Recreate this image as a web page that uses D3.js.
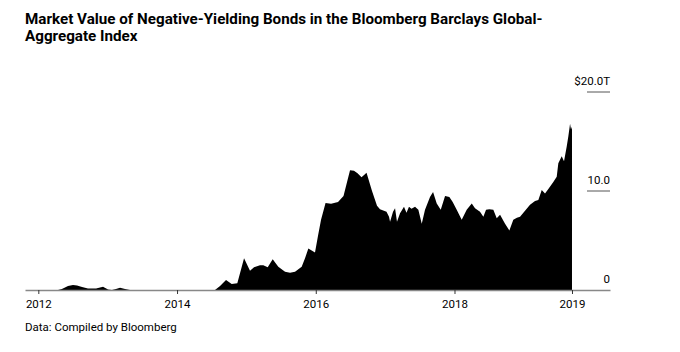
<!DOCTYPE html>
<html>
<head>
<meta charset="utf-8">
<script src="https://cdn.jsdelivr.net/npm/d3@7"></script>
<style>
  body { margin: 0; background: #fff; }
  svg { display: block; font-family: "Roboto", "Liberation Sans", sans-serif; }
</style>
</head>
<body>
<script>
// Dates as decimal years, values in trillions of USD
var years = [
  2011.808, 2012.284, 2012.341, 2012.428, 2012.500, 2012.558, 2012.630, 2012.716, 2012.832, 2012.933,
  2013.005, 2013.062, 2013.120, 2013.178, 2013.250, 2013.322, 2014.547, 2014.620, 2014.706, 2014.788,
  2014.869, 2014.966, 2015.052, 2015.110, 2015.196, 2015.244, 2015.307, 2015.379, 2015.460, 2015.557,
  2015.629, 2015.701, 2015.797, 2015.845, 2015.893, 2015.989, 2016.033, 2016.076, 2016.141, 2016.220,
  2016.321, 2016.400, 2016.451, 2016.494, 2016.551, 2016.602, 2016.660, 2016.732, 2016.811, 2016.883,
  2016.926, 2017.020, 2017.056, 2017.071, 2017.114, 2017.143, 2017.171, 2017.215, 2017.272, 2017.308,
  2017.344, 2017.380, 2017.431, 2017.479, 2017.528, 2017.575, 2017.647, 2017.691, 2017.744, 2017.802,
  2017.864, 2017.926, 2017.974, 2018.032, 2018.104, 2018.176, 2018.249, 2018.296, 2018.368, 2018.416,
  2018.455, 2018.502, 2018.560, 2018.609, 2018.657, 2018.729, 2018.791, 2018.848, 2018.900, 2018.945,
  2019.017, 2019.089, 2019.161, 2019.209, 2019.258, 2019.305, 2019.353, 2019.425, 2019.474, 2019.497,
  2019.546, 2019.579, 2019.618, 2019.641, 2019.666, 2019.680, 2019.694
];
var values = [
  0, 0, 0.1, 0.4, 0.5, 0.45, 0.3, 0.15, 0.15, 0.33,
  0.05, 0, 0.1, 0.23, 0.1, 0, 0, 0.4, 1.0, 0.6,
  0.67, 3.2, 1.95, 2.3, 2.5, 2.5, 2.3, 3.1, 2.35, 1.85,
  1.75, 1.85, 2.35, 3.2, 4.2, 3.8, 5.5, 7.1, 8.8, 8.7,
  8.9, 9.5, 10.9, 12.1, 12.05, 11.8, 11.4, 11.85, 10.0, 8.5,
  8.15, 7.9, 7.4, 6.9, 7.9, 8.25, 6.9, 7.75, 8.4, 7.8,
  8.4, 8.2, 8.4, 8.1, 6.7, 8.1, 9.4, 9.9, 8.75, 8.1,
  9.5, 9.4, 8.9, 8.1, 7.1, 8.1, 8.75, 8.25, 7.9, 7.4,
  8.1, 8.15, 8.1, 7.25, 7.6, 6.7, 6.0, 7.1, 7.3, 7.4,
  8.0, 8.6, 9.0, 9.1, 10.1, 9.75, 10.2, 10.9, 11.45, 12.8,
  13.5, 13.0, 14.5, 15.5, 16.8, 16.2, 16.5
];
var xTicks = [2012, 2014, 2016, 2018, 2019.694];
var xTickLabels = ["2012", "2014", "2016", "2018", "2019"];
var yTicks = [0, 10, 20];
var yTickLabels = ["0", "10.0", "$20.0T"];

var title = ["Market Value of Negative-Yielding Bonds in the Bloomberg Barclays Global-", "Aggregate Index"];
var source = "Data: Compiled by Bloomberg";

var W = 680, H = 352;
var svg = d3.select("body").append("svg").attr("width", W).attr("height", H);

var x = d3.scaleLinear().domain([2011.808, 2020.242]).range([25, 610]);
var y = d3.scaleLinear().domain([0, 20]).range([290, 92]);

var data = years.map(function(d, i) { return {t: d, v: values[i]}; });

svg.append("g").selectAll("text")
  .data(title)
  .join("text")
    .attr("x", 25)
    .attr("y", function(d, i) { return 24 + i * 17; })
    .attr("font-size", 15.2)
    .attr("font-weight", "bold")
    .attr("fill", "#000")
    .text(function(d) { return d; });

var area = d3.area()
    .x(function(d) { return x(d.t); })
    .y0(y(0))
    .y1(function(d) { return y(d.v); });

svg.append("path")
    .datum(data)
    .attr("d", area)
    .attr("fill", "#000");

// right-hand value labels with short rules
var yg = svg.append("g").selectAll("g")
  .data(yTicks)
  .join("g")
    .attr("transform", function(d) { return "translate(0," + y(d) + ")"; });
yg.filter(function(d) { return d > 0; }).append("line")
    .attr("x1", 587).attr("x2", 610)
    .attr("stroke", "#555").attr("stroke-width", 1);
yg.append("text")
    .attr("x", 610)
    .attr("y", -7)
    .attr("text-anchor", "end")
    .attr("font-size", 11.5)
    .attr("fill", "#000")
    .text(function(d, i) { return yTickLabels[i]; });

var xAxis = d3.axisBottom(x)
    .tickValues(xTicks)
    .tickFormat(function(d, i) { return xTickLabels[i]; })
    .tickSizeInner(4)
    .tickSizeOuter(0)
    .tickPadding(6);

var xg = svg.append("g")
    .attr("transform", "translate(0," + y(0) + ")")
    .call(xAxis);
xg.select(".domain").attr("stroke", "#888").attr("stroke-width", 1.5);
xg.selectAll(".tick line").attr("stroke", "#333");
xg.selectAll(".tick text")
    .attr("font-size", 11.5)
    .attr("font-family", "Roboto, sans-serif")
    .attr("fill", "#000");

svg.append("text")
    .attr("x", 25)
    .attr("y", 331)
    .attr("font-size", 11.5)
    .attr("fill", "#000")
    .text(source);
</script>
</body>
</html>
